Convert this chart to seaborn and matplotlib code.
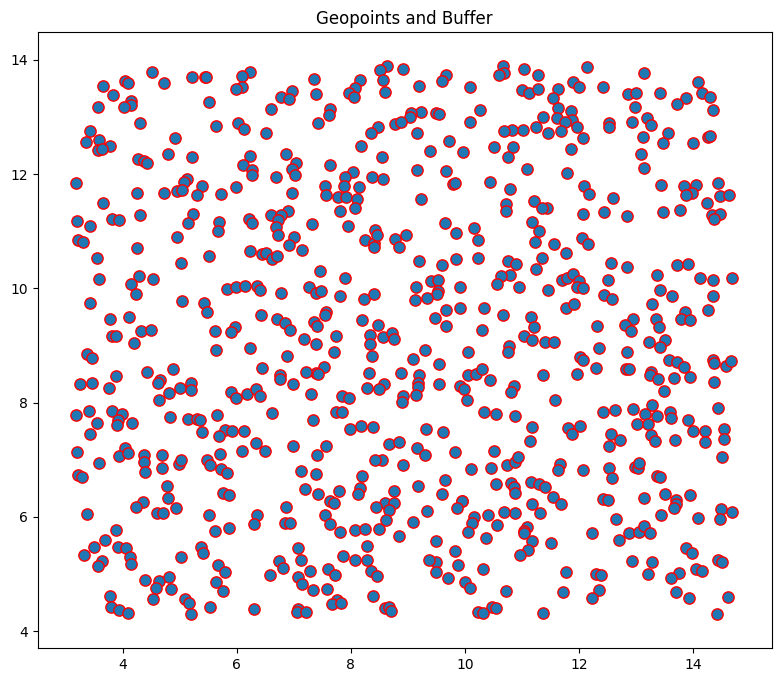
import matplotlib
matplotlib.use('Agg')
import matplotlib.pyplot as plt
import seaborn as sns
import pandas as pd

# Point coordinates, grouped by region (row, column)
x_r1c1 = [4.51,4.04,4.10,3.66,4.73,5.21,5.44,5.46,3.83,4.14,4.14,4.02,3.57,5.52,4.30,5.64,3.43,3.35,3.59,3.77,3.57,3.63,4.91,4.79,5.22,4.27,4.38,4.43,3.19,5.13,5.07,5.39,4.26,4.73,4.95,5.04,5.31,3.65,4.31,5.24,3.81,3.94,3.20,3.42,5.15]
y_r1c1 = [13.79,13.64,13.59,13.54,13.60,13.70,13.71,13.70,13.38,13.29,13.21,13.17,13.18,13.26,12.90,12.84,12.75,12.57,12.60,12.50,12.43,12.45,12.64,12.36,12.30,12.27,12.24,12.19,11.85,11.91,11.86,11.79,11.68,11.68,11.71,11.73,11.64,11.50,11.28,11.31,11.22,11.19,11.18,11.09,11.14]

x_r1c2 = [6.23,6.09,6.10,5.99,6.97,6.77,6.91,6.60,7.36,7.38,7.64,7.62,7.42,8.16,8.08,7.97,8.06,8.63,8.51,8.56,8.59,8.78,8.47,8.36,8.18,8.55,6.03,6.12,6.51,6.24,6.11,6.26,6.27,6.87,7.04,6.97,7.02,6.68,7.63,8.04,7.90,8.37,8.57,7.54,7.88,8.15,5.99,5.73,6.97,7.57,7.78,7.91,8.11,8.08,7.81,6.90,6.60,6.77,6.72,6.21,6.27,5.69,5.67,6.68,7.32,7.94,8.42]
y_r1c2 = [13.79,13.72,13.52,13.49,13.45,13.35,13.32,13.14,13.66,13.41,13.15,13.04,12.90,13.65,13.51,13.43,13.35,13.90,13.83,13.65,13.44,12.88,12.83,12.73,12.49,12.30,12.90,12.79,12.72,12.32,12.17,12.08,11.99,12.36,12.19,12.09,11.98,11.96,12.16,12.04,11.96,11.96,11.91,11.79,11.80,11.77,11.78,11.66,11.67,11.64,11.60,11.60,11.57,11.40,11.36,11.36,11.29,11.28,11.20,11.22,11.15,11.17,11.01,11.07,11.12,11.10,11.03]

x_r1c3 = [8.91,10.66,10.69,10.59,11.04,11.27,9.67,9.60,9.20,10.09,11.00,11.12,11.27,11.63,11.89,12.00,11.54,11.63,11.85,11.61,11.37,11.88,11.75,11.96,11.68,11.45,11.24,11.01,10.83,10.69,12.06,10.27,10.09,9.49,9.54,9.22,9.05,9.03,8.87,9.15,9.71,9.39,9.97,10.51,10.84,10.76,11.86,11.08,11.79,9.15,9.67,9.78,9.83,10.44,10.78,9.23,11.20,10.72,10.71,11.44,11.34,12.06,9.64,11.18,11.30,10.15]
y_r1c3 = [13.84,13.90,13.78,13.74,13.85,13.74,13.74,13.64,13.55,13.53,13.48,13.42,13.50,13.50,13.62,13.52,13.34,13.16,13.11,12.99,13.01,12.95,12.92,12.82,12.76,12.72,12.83,12.78,12.78,12.75,12.64,13.13,12.91,13.08,13.06,13.09,13.07,13.00,12.92,12.73,12.58,12.40,12.39,12.48,12.48,12.30,12.44,12.09,12.02,12.08,12.06,11.83,11.85,11.87,11.74,11.57,11.53,11.47,11.36,11.40,11.40,11.31,11.15,11.17,11.01,11.05]

x_r1c4 = [12.14,13.14,14.09,12.41,12.86,13.00,13.41,14.15,14.30,13.88,13.71,12.98,14.35,13.19,12.93,13.25,12.53,12.52,13.56,13.12,13.46,13.99,14.26,14.30,13.09,13.13,13.43,13.84,14.04,14.43,13.98,13.88,14.47,14.63,14.24,12.09,12.18,12.59,12.43,12.83,13.47,13.77,14.32,14.47,14.36]
y_r1c4 = [13.88,13.78,13.61,13.53,13.40,13.42,13.42,13.42,13.36,13.33,13.23,13.18,13.13,12.99,12.92,12.87,12.89,12.82,12.72,12.66,12.54,12.54,12.66,12.67,12.36,12.11,11.81,11.80,11.82,11.84,11.67,11.63,11.61,11.64,11.49,11.80,11.66,11.59,11.33,11.27,11.33,11.37,11.29,11.30,11.21]

x_r2c1 = [3.22,3.31,4.95,4.25,5.51,3.55,5.03,4.28,3.58,4.53,4.15,4.23,3.43,5.04,5.43,5.48,3.78,4.12,4.32,4.50,5.62,3.81,3.88,4.20,5.63,3.38,3.47,4.88,4.43,3.89,4.65,4.62,3.47,3.26,3.76,5.00,5.19,5.19,4.81,4.64,3.41,3.81,3.19,3.98,3.91,3.90,3.55,4.17,4.83,5.14,5.31,5.36,5.39,3.42]
y_r2c1 = [10.85,10.81,10.90,10.71,10.56,10.54,10.45,10.21,10.17,10.16,10.08,9.90,9.75,9.78,9.74,9.58,9.47,9.50,9.26,9.27,9.25,9.16,9.17,9.04,8.92,8.86,8.78,8.59,8.53,8.47,8.40,8.35,8.35,8.32,8.25,8.26,8.35,8.23,8.17,8.05,7.85,7.86,7.79,7.80,7.69,7.61,7.64,7.64,7.75,7.71,7.72,7.69,7.48,7.45]

x_r2c2 = [6.73,7.01,6.92,7.14,6.24,6.45,6.52,6.62,6.70,8.25,8.40,8.41,8.46,8.78,7.46,7.90,7.26,7.39,7.48,7.80,8.23,8.40,5.83,5.99,6.14,6.35,6.41,6.77,6.43,6.70,6.84,6.94,7.56,7.54,7.36,7.41,8.20,8.48,8.33,8.33,8.56,8.72,8.75,7.74,7.18,7.39,7.70,5.97,5.89,6.24,6.88,8.37,6.45,7.53,7.39,7.43,7.22,6.75,6.75,6.98,8.31,8.58,8.29,8.50,5.89,5.98,6.18,6.33,6.41,7.30,7.84,7.97,5.66,6.62,7.74,7.85,7.34,5.79,5.92,6.13,5.69,7.98,8.18,8.39]
y_r2c2 = [10.94,10.90,10.76,10.68,10.65,10.61,10.62,10.52,10.57,10.84,10.80,10.73,10.93,10.86,10.30,10.18,10.03,9.92,9.96,9.86,9.82,9.91,9.99,10.03,10.05,10.05,9.97,9.92,9.54,9.46,9.39,9.27,9.58,9.53,9.42,9.34,9.45,9.36,9.19,9.03,9.15,9.22,9.12,9.17,9.12,9.02,8.88,9.33,9.24,8.95,8.81,8.81,8.60,8.62,8.52,8.50,8.53,8.49,8.41,8.33,8.52,8.32,8.25,8.24,8.18,8.08,8.15,8.24,8.11,8.15,8.11,8.09,7.79,7.82,7.83,7.83,7.69,7.52,7.51,7.51,7.42,7.54,7.59,7.58]

x_r2c3 = [8.97,8.85,9.84,10.23,11.23,11.55,11.76,12.05,9.20,9.59,9.84,10.23,10.76,10.90,11.34,11.25,10.78,10.63,10.56,10.95,9.40,9.52,9.14,9.92,9.53,9.51,9.34,9.13,9.67,9.92,9.47,9.66,10.33,10.67,10.29,11.45,11.70,11.79,11.89,12.00,11.97,11.77,11.91,11.16,11.20,11.03,11.17,11.40,11.56,10.77,10.75,9.29,9.08,10.06,9.55,12.01,8.87,9.20,10.05,10.19,10.29,10.43,11.36,11.96,9.17,9.18,9.55,9.92,9.98,9.14,8.92,8.90,10.85,10.81,10.03,11.57,10.33,10.54,10.88,11.18,9.31,9.61,11.81,11.87,12.01]
y_r2c3 = [10.94,10.72,10.97,10.85,10.82,10.77,10.62,10.88,10.48,10.41,10.52,10.53,10.48,10.42,10.53,10.34,10.24,10.22,10.07,10.03,10.13,10.14,10.02,10.03,9.95,9.90,9.84,9.79,9.62,9.65,9.49,9.35,9.65,9.53,9.27,9.97,10.14,10.19,10.25,10.13,10.03,9.65,9.72,9.50,9.33,9.16,9.10,9.06,9.06,8.99,8.89,8.92,8.77,8.88,8.68,8.80,8.52,8.49,8.48,8.51,8.59,8.39,8.48,8.50,8.34,8.27,8.33,8.30,8.24,8.14,8.11,8.02,8.29,8.18,8.04,8.05,7.83,7.81,7.76,7.58,7.54,7.49,7.56,7.45,7.59]

x_r2c4 = [12.15,12.55,12.83,13.36,13.71,13.91,14.11,14.34,14.68,12.51,12.07,13.41,13.63,12.43,12.57,14.34,13.28,14.26,13.85,13.78,13.95,12.95,12.81,12.91,12.32,13.35,13.40,13.23,13.50,13.42,12.35,12.83,12.06,12.30,12.82,12.88,13.58,13.71,13.84,13.94,13.66,13.25,13.24,13.38,14.34,14.36,14.57,14.66,14.37,13.49,12.41,12.63,12.94,13.28,13.16,13.36,13.59,13.61,14.44,13.90,13.02,13.21,14.00,14.21,14.53,12.55,13.26]
y_r2c4 = [10.77,10.44,10.37,10.24,10.41,10.42,10.19,10.14,10.18,10.14,10.00,9.98,9.86,9.88,9.82,9.87,9.72,9.63,9.58,9.46,9.44,9.46,9.36,9.25,9.34,9.46,9.33,9.07,9.10,8.98,8.95,8.88,8.74,8.61,8.59,8.59,8.74,8.71,8.63,8.45,8.43,8.54,8.48,8.42,8.74,8.70,8.64,8.73,8.37,8.20,7.83,7.88,7.89,7.96,7.80,7.77,7.83,7.73,7.90,7.70,7.63,7.62,7.50,7.51,7.54,7.45,7.44]

x_r3c1 = [3.20,4.04,3.94,4.09,4.38,4.69,4.37,4.39,4.69,3.59,4.98,5.02,5.48,5.53,3.21,3.28,4.77,4.80,4.36,4.23,4.93,4.60,4.71,3.38,5.51,3.88,5.62,3.69,3.50,3.91,4.06,3.32,4.13,4.14,3.64,3.56,5.02,5.37,5.40,4.39,4.63,4.82,4.58,4.85,4.53,3.78,3.79,3.94,4.09,5.09,5.17,5.19,5.53]
y_r3c1 = [7.13,7.20,7.06,7.12,7.09,7.08,6.96,6.78,6.86,6.95,6.92,6.99,7.00,6.91,6.73,6.70,6.54,6.34,6.26,6.18,6.16,6.07,6.07,6.05,6.04,5.77,5.76,5.60,5.48,5.47,5.46,5.33,5.29,5.17,5.22,5.14,5.29,5.48,5.36,4.90,4.88,4.94,4.75,4.74,4.56,4.61,4.43,4.37,4.32,4.57,4.49,4.30,4.43]

x_r3c2 = [6.33,6.10,6.50,6.99,7.56,7.40,8.67,8.55,8.43,5.71,5.72,5.82,7.12,7.38,8.20,8.16,8.12,7.79,7.20,7.42,7.63,7.71,8.76,5.75,5.86,8.60,8.75,8.44,8.66,6.86,6.35,6.31,6.85,6.94,7.54,7.64,7.81,8.07,8.25,8.50,8.61,5.87,8.28,7.08,7.13,7.86,8.07,8.29,6.74,6.81,7.28,7.59,7.72,8.36,8.46,5.67,5.79,5.64,5.75,6.59,7.07,7.14,7.34,7.58,7.76,7.67,7.82,8.38,8.60,8.66,8.71,6.30,7.07,7.06,7.21]
y_r3c2 = [7.29,7.15,7.16,7.25,7.24,7.09,7.28,7.00,6.99,7.10,6.84,6.77,6.81,6.76,6.71,6.51,6.40,6.46,6.49,6.40,6.28,6.25,6.46,6.42,6.39,6.24,6.25,6.18,6.13,6.17,6.04,5.87,5.89,5.90,6.03,5.87,5.74,5.77,5.78,5.79,5.94,5.80,5.49,5.45,5.25,5.32,5.25,5.25,5.23,5.11,5.06,5.09,4.99,5.06,4.96,5.16,5.03,4.86,4.70,4.98,4.94,4.83,4.72,4.74,4.55,4.48,4.50,4.61,4.41,4.43,4.36,4.38,4.39,4.33,4.33]

x_r3c3 = [8.85,11.14,9.15,9.30,9.83,10.51,8.92,10.11,10.45,10.73,10.88,10.92,11.67,11.62,9.65,9.17,9.60,10.55,10.81,10.86,10.88,11.16,11.30,11.40,11.54,11.68,11.18,11.32,10.87,10.69,10.40,9.95,9.94,9.85,9.33,9.08,8.85,10.16,10.12,10.06,10.56,10.36,11.09,11.04,11.03,11.17,11.10,10.96,11.51,9.49,9.82,9.49,9.36,9.49,9.88,9.70,10.31,10.00,10.09,10.72,11.76,11.72,10.47,10.54,10.23,10.31,11.36]
y_r3c3 = [7.32,7.33,7.21,7.09,7.13,7.16,6.91,6.84,6.86,6.91,6.97,7.05,6.93,6.82,6.64,6.54,6.41,6.57,6.59,6.52,6.42,6.61,6.58,6.52,6.35,6.23,6.23,6.07,6.07,6.09,6.04,6.28,6.28,6.16,6.11,5.91,5.67,6.00,5.89,5.74,5.85,5.63,5.83,5.76,5.72,5.58,5.42,5.33,5.54,5.57,5.41,5.21,5.24,5.04,5.16,4.93,5.09,4.86,4.75,4.71,5.04,4.68,4.43,4.41,4.34,4.31,4.32]

x_r3c4 = [12.72,12.53,13.33,13.68,14.21,14.53,14.51,12.07,12.53,12.58,12.98,13.03,13.05,13.37,13.42,12.41,12.50,13.14,13.50,13.69,13.70,13.66,13.94,13.43,14.09,14.49,14.68,14.46,12.64,12.23,12.69,12.87,13.04,13.14,13.24,13.88,13.98,12.93,13.28,13.21,14.44,14.51,14.05,14.16,13.75,13.61,12.29,12.39,12.35,12.22,13.69,13.92,14.60,14.42]
y_r3c4 = [7.35,7.25,7.33,7.34,7.31,7.37,7.05,6.82,6.86,6.69,6.88,6.85,6.95,6.72,6.70,6.31,6.29,6.33,6.40,6.30,6.22,6.15,6.39,6.04,5.98,6.14,6.09,5.97,5.96,5.71,5.59,5.71,5.74,5.84,5.71,5.45,5.36,5.23,5.21,5.00,5.25,5.21,5.09,5.06,5.02,4.93,5.00,4.99,4.72,4.58,4.68,4.58,4.59,4.30]

x_values = x_r1c1 + x_r1c2 + x_r1c3 + x_r1c4 + x_r2c1 + x_r2c2 + x_r2c3 + x_r2c4 + x_r3c1 + x_r3c2 + x_r3c3 + x_r3c4
y_values = y_r1c1 + y_r1c2 + y_r1c3 + y_r1c4 + y_r2c1 + y_r2c2 + y_r2c3 + y_r2c4 + y_r3c1 + y_r3c2 + y_r3c3 + y_r3c4

points = pd.DataFrame({'x': x_values, 'y': y_values})

fig = plt.figure(figsize=(7.81, 6.82), dpi=100)
ax = fig.add_axes([37.5 / 781, 1 - 648.3 / 682, 734.2 / 781, 616.3 / 682])

# thinner red ring than the first try
sns.scatterplot(data=points, x='x', y='y', color='#1f77b4', edgecolor='red', s=66, linewidth=1.0, ax=ax)

ax.set_xlim(2.508, 15.373)
ax.set_ylim(3.70, 14.49)
ax.set_xticks([4, 6, 8, 10, 12, 14])
ax.set_yticks([4, 6, 8, 10, 12, 14])
ax.set_xlabel('')
ax.set_ylabel('')
ax.set_title('Geopoints and Buffer')

plt.savefig('out.png', dpi=100)
